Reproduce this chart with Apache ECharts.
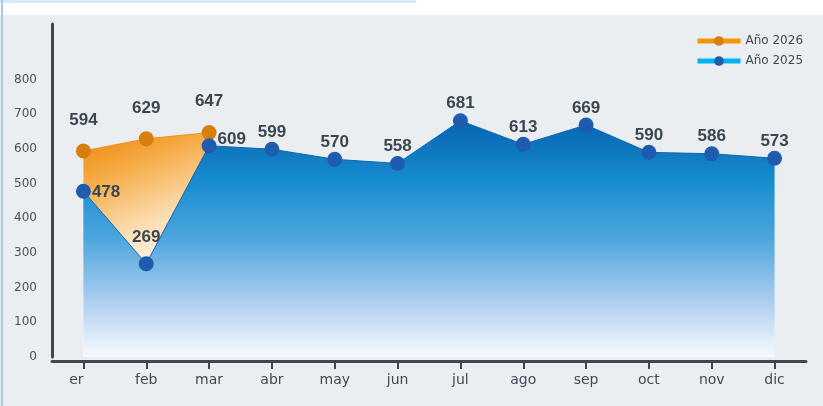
<!DOCTYPE html>
<html>
<head>
<meta charset="utf-8">
<script src="https://cdn.jsdelivr.net/npm/echarts@6/dist/echarts.min.js"></script>
<style>
html,body{margin:0;padding:0;background:#ebeef0;}
#c{width:823px;height:406px;}
</style>
</head>
<body>
<div id="c"></div>
<script>
const categories = ['er','feb','mar','abr','may','jun','jul','ago','sep','oct','nov','dic'];
const values2026 = [594, 629, 647];
const values2025 = [478, 269, 609, 599, 570, 558, 681, 613, 669, 590, 586, 573];
const yTicks = [0, 100, 200, 300, 400, 500, 600, 700, 800];
const seriesNames = ['Año 2026', 'Año 2025'];

const labelColor = '#3a4650';
const axisColor = '#3d4852';

const data2025 = values2025.map((v, i) => {
  let label = { position: 'top', distance: 1 };
  if (i === 0) label = { position: 'right', distance: 1, offset: [0, 1] };
  if (i === 1) label = { position: 'top', distance: 10 };
  if (i === 2) label = { position: 'right', distance: 1, offset: [0, -6] };
  return { value: v, label: label };
});

const catData = categories.map((c, i) => i === 0 ? { value: c, textStyle: { padding: [0, 14, 0, 0] } } : c);

const chart = echarts.init(document.getElementById('c'));
chart.setOption({
  animation: false,
  backgroundColor: '#ebeef0',
  graphic: [
    { type: 'rect', shape: { x: 0, y: 0, width: 823, height: 15 }, style: { fill: '#ffffff' }, silent: true },
    { type: 'rect', shape: { x: 0, y: 0, width: 416, height: 3 }, style: { fill: '#dbe8f5' }, silent: true },
    { type: 'rect', shape: { x: 1, y: 0, width: 2, height: 406 }, style: { fill: '#a9c9e9' }, silent: true }
  ],
  grid: { left: 52, right: 17, top: 24, bottom: 49 },
  legend: {
    orient: 'vertical',
    left: 690,
    top: 30,
    itemWidth: 43,
    itemHeight: 12,
    itemGap: 8,
    textStyle: { fontFamily: 'DejaVu Sans', fontSize: 12, color: '#3f4a54', padding: [0, 0, 0, 0] },
    data: [
      { name: seriesNames[0], itemStyle: { color: '#d77e0c' }, lineStyle: { color: '#f39505', width: 5 } },
      { name: seriesNames[1], itemStyle: { color: '#1f5cb0' }, lineStyle: { color: '#00b4f2', width: 5 } }
    ]
  },
  xAxis: {
    type: 'category',
    data: catData,
    boundaryGap: true,
    offset: 4,
    axisLine: { show: true, onZero: false, lineStyle: { color: axisColor, width: 3 } },
    axisTick: { show: true, alignWithLabel: true, length: 8, lineStyle: { color: axisColor, width: 2 } },
    axisLabel: { fontFamily: 'DejaVu Sans', fontSize: 14, color: '#3f4a54', margin: 12 }
  },
  yAxis: {
    type: 'value',
    min: 0,
    max: 960,
    interval: 100,
    splitLine: { show: false },
    axisLine: { show: true, lineStyle: { color: axisColor, width: 3 } },
    axisTick: { show: false },
    axisLabel: {
      fontFamily: 'DejaVu Sans', fontSize: 12, color: '#46525c', margin: 15,
      formatter: v => (yTicks.indexOf(v) >= 0 ? String(v) : '')
    }
  },
  series: [
    {
      name: seriesNames[0],
      type: 'line',
      data: values2026,
      symbol: 'circle',
      symbolSize: 15,
      z: 2,
      itemStyle: { color: '#d77e0c' },
      lineStyle: { width: 1, color: '#ee9020' },
      areaStyle: {
        opacity: 1,
        color: new echarts.graphic.LinearGradient(0, 0, 0.6, 0.8, [
          { offset: 0, color: '#ec860c' },
          { offset: 0.25, color: '#f5ab45' },
          { offset: 0.55, color: '#fbdcb0' },
          { offset: 0.8, color: '#fff9f1' },
          { offset: 1, color: '#ffffff' }
        ])
      },
      label: {
        show: true, position: 'top', distance: 15,
        fontFamily: 'Liberation Sans', fontWeight: 'bold', fontSize: 17, color: labelColor
      }
    },
    {
      name: seriesNames[1],
      type: 'line',
      data: data2025,
      symbol: 'circle',
      symbolSize: 15,
      z: 3,
      itemStyle: { color: '#1f5cb0' },
      lineStyle: { width: 1, color: '#0b67b3' },
      areaStyle: {
        opacity: 1,
        color: new echarts.graphic.LinearGradient(0, 0, 0, 1, [
          { offset: 0, color: '#0863b0' },
          { offset: 0.25, color: '#168ccf' },
          { offset: 0.5, color: '#4ea6dd' },
          { offset: 0.75, color: '#a8cbee' },
          { offset: 1, color: '#f8fafe' }
        ])
      },
      label: {
        show: true,
        fontFamily: 'Liberation Sans', fontWeight: 'bold', fontSize: 17, color: labelColor
      }
    }
  ]
});
</script>
</body>
</html>
